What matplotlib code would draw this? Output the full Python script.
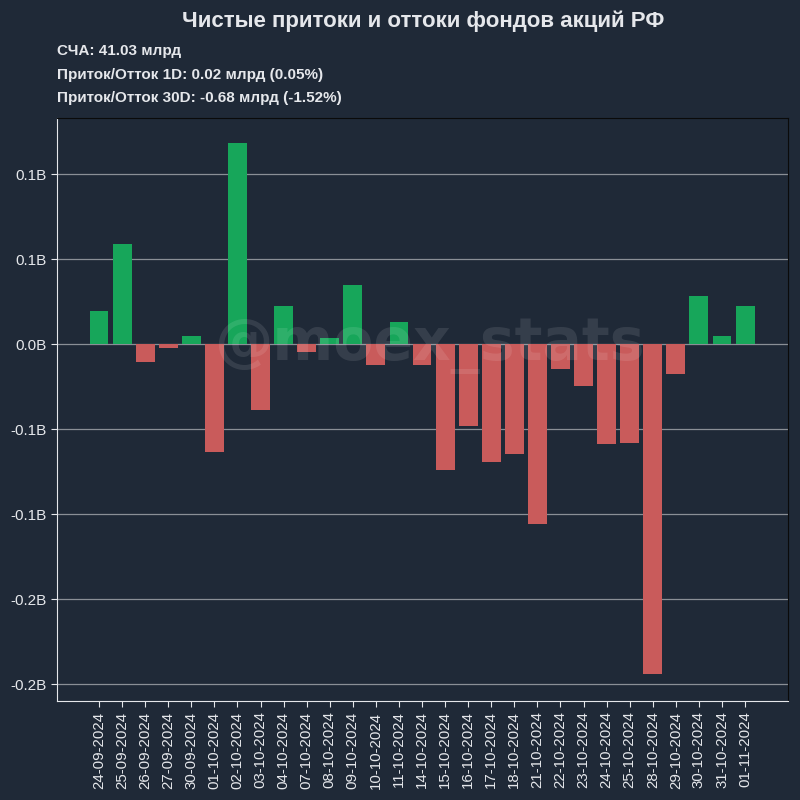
import matplotlib
matplotlib.use("Agg")
import matplotlib.pyplot as plt
import numpy as np

plt.rcParams['font.family'] = ['Liberation Sans', 'DejaVu Sans']

dates = ["24-09-2024", "25-09-2024", "26-09-2024", "27-09-2024", "30-09-2024",
         "01-10-2024", "02-10-2024", "03-10-2024", "04-10-2024", "07-10-2024",
         "08-10-2024", "09-10-2024", "10-10-2024", "11-10-2024", "14-10-2024",
         "15-10-2024", "16-10-2024", "17-10-2024", "18-10-2024", "21-10-2024",
         "22-10-2024", "23-10-2024", "24-10-2024", "25-10-2024", "28-10-2024",
         "29-10-2024", "30-10-2024", "31-10-2024", "01-11-2024"]
flows = [0.0194, 0.0588, -0.0106, -0.0024, 0.0047,
         -0.0635, 0.1186, -0.0388, 0.0224, -0.0047,
         0.0035, 0.0347, -0.0124, 0.0129, -0.0124,
         -0.0741, -0.0482, -0.0694, -0.0647, -0.1059,
         -0.0147, -0.0247, -0.0588, -0.0582, -0.1941,
         -0.0176, 0.0282, 0.0047, 0.0224]
yticks = [0.1, 0.05, 0.0, -0.05, -0.1, -0.15, -0.2]
ytick_labels = ["0.1B", "0.1B", "0.0B", "-0.1B", "-0.1B", "-0.2B", "-0.2B"]

title = "Чистые притоки и оттоки фондов акций РФ"
info = ["СЧА: 41.03 млрд",
        "Приток/Отток 1D: 0.02 млрд (0.05%)",
        "Приток/Отток 30D: -0.68 млрд (-1.52%)"]

bg = "#1f2937"
green = "#17a65a"
red = "#c95b5b"

fig = plt.figure(figsize=(8, 8), dpi=100, facecolor=bg)
ax = fig.add_axes([57/800, 1-701/800, (788-57)/800, (701-118)/800])
ax.set_facecolor(bg)

x = np.arange(len(dates))
colors = [green if v >= 0 else red for v in flows]
ax.bar(x, flows, width=0.82, color=colors, zorder=3)

ax.set_xlim(-1.82, len(dates) - 1 + 1.86)
ax.set_ylim(-0.2098, 0.1331)
ax.set_yticks(yticks)
ax.set_yticklabels(ytick_labels)
ax.set_xticks(x)
ax.set_xticklabels(dates, rotation=90)
ax.grid(axis='y', color='#8a8f96', linewidth=0.9, zorder=1)
ax.tick_params(colors='#e5e7eb', labelsize=11, length=4)
ax.tick_params(axis='x', labelsize=10.8)
for s in ['left', 'bottom']:
    ax.spines[s].set_color('#e5e7eb')
for s in ['top', 'right']:
    ax.spines[s].set_color('#0a0a0a')

ax.text(0.51, 0.61, "@moex_stats", transform=ax.transAxes, ha='center', va='center',
        fontsize=42, fontweight='bold', color='white', alpha=0.1, zorder=5,
        family='DejaVu Sans')

fig.text(423/800, 1-21/800, title, ha='center', va='center', fontsize=16,
         fontweight='bold', color='#e5e7eb')
for i, t in enumerate(info):
    fig.text(57/800, 1-(51 + i*23.5)/800, t, ha='left', va='center', fontsize=11,
             fontweight='bold', color='#e5e7eb')

fig.savefig("out.png", dpi=100, facecolor=bg)
